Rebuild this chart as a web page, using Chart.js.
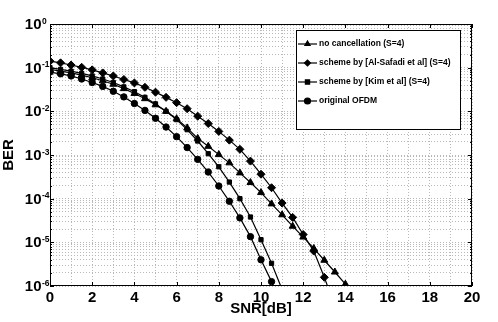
<!DOCTYPE html>
<html>
<head>
<meta charset="utf-8">
<script src="https://cdn.jsdelivr.net/npm/chart.js@4.4.0/dist/chart.umd.min.js"></script>
<style>
html,body{margin:0;padding:0;background:#fff;}
</style>
</head>
<body>
<canvas id="myChart" width="498" height="322"></canvas>
<script>
// SNR points (dB), every 0.5 dB
var snr = [0,0.5,1,1.5,2,2.5,3,3.5,4,4.5,5,5.5,6,6.5,7,7.5,8,8.5,9,9.5,10,10.5,11,11.5,12,12.5,13,13.5,14];

// BER
var berNoCancel = [0.0912,0.0832,0.0759,0.0676,0.0589,0.0501,0.0417,0.0331,0.0257,0.0195,0.0141,0.0100,0.00676,0.00417,0.00240,0.00158,0.00102,6.61e-4,3.89e-4,2.34e-4,1.38e-4,7.59e-5,4.27e-5,2.34e-5,1.32e-5,7.24e-6,3.89e-6,2.09e-6,1.10e-6];
var berAlSafadi = [0.141,0.129,0.115,0.102,0.0891,0.0759,0.0646,0.0537,0.0447,0.0355,0.0275,0.0209,0.0158,0.0115,0.00776,0.00525,0.00347,0.00219,0.00135,7.24e-4,3.63e-4,1.78e-4,7.94e-5,3.72e-5,1.51e-5,6.31e-6,1.58e-6,3.5e-7];
var berKim = [0.100,0.0912,0.0832,0.0741,0.0646,0.0550,0.0457,0.0363,0.0282,0.0209,0.0148,0.0100,0.00646,0.00380,0.00209,0.00107,5.37e-4,2.40e-4,1.00e-4,3.80e-5,1.15e-5,3.31e-6,8.3e-7];
var berOfdm = [0.0794,0.0724,0.0646,0.0550,0.0457,0.0372,0.0288,0.0214,0.0151,0.0105,0.00692,0.00437,0.00263,0.00148,7.94e-4,4.07e-4,1.95e-4,8.71e-5,3.63e-5,1.35e-5,3.98e-6,1.26e-6,3.5e-7];

var seriesLabels = ["no cancellation (S=4)", "scheme by [Al-Safadi et al] (S=4)", "scheme by [Kim et al] (S=4)", "original OFDM"];
var seriesMarkers = ["triangle", "rectRot", "rect", "circle"];
var markerSizes = [4, 4, 3, 3.2];

var xTicks = [0,2,4,6,8,10,12,14,16,18,20];
var yDecades = [1e-6,1e-5,1e-4,1e-3,1e-2,1e-1,1];
var yMinor = [1,2,3,4,5,6,7,8,9];

var FONT = '"Liberation Sans", Arial, sans-serif';

function pts(arr){
  return arr.map(function(v,i){ return {x: snr[i], y: v}; });
}

var allSeries = [berNoCancel, berAlSafadi, berKim, berOfdm];

function isDecade(v){
  var l = Math.log10(v);
  return Math.abs(l - Math.round(l)) < 1e-6;
}

var frame = {
  id: 'frame',
  afterDraw: function(chart){
    var ctx = chart.ctx, a = chart.chartArea, xs = chart.scales.x, ys = chart.scales.y;
    ctx.save();
    ctx.strokeStyle = '#000';
    ctx.lineWidth = 1;
    ctx.strokeRect(a.left+0.5, a.top+0.5, a.right-a.left-1, a.bottom-a.top-1);

    // inward ticks
    ctx.beginPath();
    xTicks.forEach(function(v){
      var px = Math.round(xs.getPixelForValue(v))+0.5;
      ctx.moveTo(px, a.bottom); ctx.lineTo(px, a.bottom-4);
      ctx.moveTo(px, a.top); ctx.lineTo(px, a.top+4);
    });
    ys.ticks.forEach(function(t){
      var py = Math.round(ys.getPixelForValue(t.value))+0.5;
      var len = isDecade(t.value) ? 4 : 2;
      ctx.moveTo(a.left, py); ctx.lineTo(a.left+len, py);
      ctx.moveTo(a.right, py); ctx.lineTo(a.right-len, py);
    });
    ctx.stroke();

    // y labels 10^n
    ctx.fillStyle = '#000';
    yDecades.forEach(function(v){
      var py = ys.getPixelForValue(v);
      var e = Math.round(Math.log10(v));
      ctx.font = 'bold 15px ' + FONT;
      ctx.textAlign = 'right';
      ctx.textBaseline = 'middle';
      ctx.fillText('10', a.left-8.5, py+1);
      ctx.font = 'bold 8.5px ' + FONT;
      ctx.textAlign = 'left';
      ctx.textBaseline = 'alphabetic';
      ctx.fillText(e === 0 ? '0' : '-' + (-e), a.left-8, py-0.5);
    });

    // legend box
    var bl = a.right-176, br = a.right-12, bt = a.top+6, bb = a.top+105;
    ctx.fillStyle = '#fff';
    ctx.fillRect(bl, bt, br-bl, bb-bt);
    ctx.strokeStyle = '#000';
    ctx.strokeRect(bl+0.5, bt+0.5, br-bl, bb-bt);
    chart.data.datasets.forEach(function(ds, i){
      var y = a.top + 20 + i*19;
      ctx.beginPath();
      ctx.lineWidth = 1.2;
      ctx.strokeStyle = '#000';
      ctx.moveTo(bl+2, y); ctx.lineTo(bl+21, y);
      ctx.stroke();
      ctx.fillStyle = '#000';
      Chart.helpers.drawPoint(ctx, {pointStyle: ds.pointStyle, radius: 3, rotation: 0, borderWidth: 1}, bl+11.5, y);
      ctx.fillStyle = '#000';
      ctx.font = 'bold 8.5px ' + FONT;
      ctx.textAlign = 'left';
      ctx.textBaseline = 'middle';
      ctx.fillText(ds.label, bl+23, y);
    });
    ctx.restore();
  }
};

var ctx = document.getElementById("myChart").getContext("2d");
var myChart = new Chart(ctx, {
  type: "line",
  data: {
    datasets: allSeries.map(function(s, i){
      return {
        label: seriesLabels[i],
        data: pts(s),
        borderColor: "#000",
        backgroundColor: "#000",
        borderWidth: 1.2,
        pointStyle: seriesMarkers[i],
        pointRadius: markerSizes[i],
        pointBackgroundColor: "#000",
        pointBorderColor: "#000",
        pointBorderWidth: 1,
        tension: 0,
        fill: false
      };
    })
  },
  options: {
    responsive: false,
    animation: false,
    layout: { padding: { top: 24, right: 26, left: 0, bottom: 0 } },
    plugins: { legend: { display: false }, tooltip: { enabled: false } },
    scales: {
      x: {
        type: "linear",
        min: 0,
        max: 20,
        afterFit: function(s){ s.height = 36; },
        ticks: {
          stepSize: 1,
          autoSkip: false,
          maxRotation: 0,
          padding: 3,
          color: "#000",
          font: { family: FONT, size: 15, weight: "bold" },
          callback: function(v){ return v % 2 === 0 ? v : ''; }
        },
        grid: { color: "#b8b8b8", drawTicks: false },
        border: { display: false, dash: [1, 2] },
        title: {
          display: true,
          text: "SNR[dB]",
          color: "#000",
          font: { family: FONT, size: 15, weight: "bold" },
          padding: { top: 0, bottom: 4 }
        }
      },
      y: {
        type: "logarithmic",
        min: 1e-6,
        max: 1,
        afterFit: function(s){ s.width = 50; },
        afterBuildTicks: function(s){
          var t = [];
          yDecades.forEach(function(d){
            yMinor.forEach(function(m){
              var v = d*m;
              if (v <= 1 + 1e-12) t.push({value: v});
            });
          });
          s.ticks = t;
        },
        ticks: {
          autoSkip: false,
          color: "#000",
          callback: function(){ return ''; }
        },
        grid: { color: "#b8b8b8", drawTicks: false },
        border: { display: false, dash: [1, 2] },
        title: {
          display: true,
          text: "BER",
          color: "#000",
          font: { family: FONT, size: 15, weight: "bold" },
          padding: { top: 0, bottom: 1 }
        }
      }
    }
  },
  plugins: [frame]
});
</script>
</body>
</html>
